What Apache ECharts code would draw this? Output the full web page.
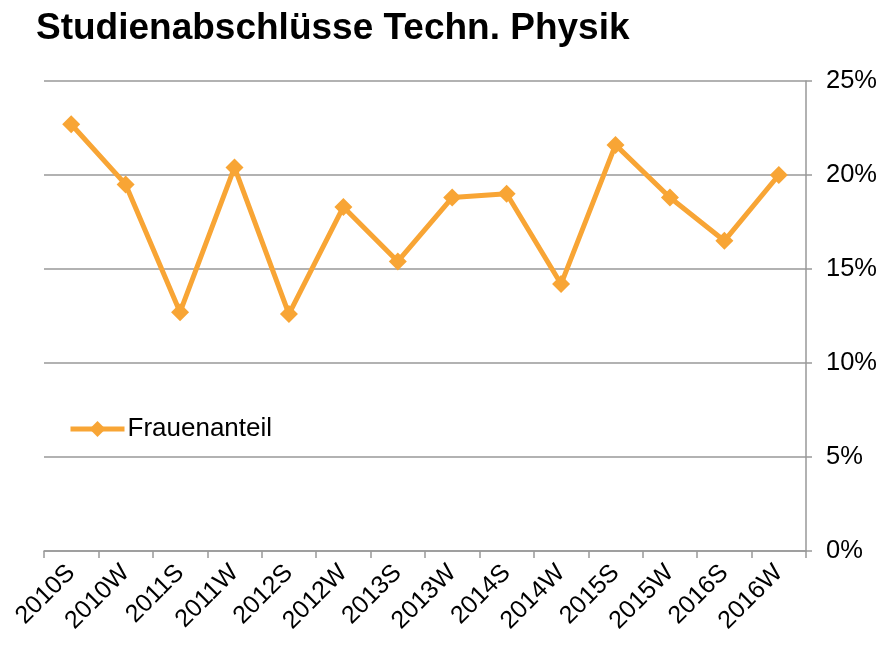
<!DOCTYPE html>
<html>
<head>
<meta charset="utf-8">
<script src="https://cdn.jsdelivr.net/npm/echarts@6/dist/echarts.min.js"></script>
<style>html,body{margin:0;padding:0;background:#fff}#c{width:886px;height:646px}</style>
</head>
<body>
<div id="c"></div>
<script>
const categories = ['2010S','2010W','2011S','2011W','2012S','2012W','2013S','2013W','2014S','2014W','2015S','2015W','2016S','2016W'];
const frauenanteil = [22.7, 19.5, 12.7, 20.4, 12.6, 18.3, 15.4, 18.8, 19.0, 14.2, 21.6, 18.8, 16.5, 20.0];
const seriesName = 'Frauenanteil';
const title = 'Studienabschlüsse Techn. Physik';

const chart = echarts.init(document.getElementById('c'));
const font = 'Liberation Sans, Arial, sans-serif';
chart.setOption({
  animation: false,
  title: {text: title, left: 31, top: 5, textStyle: {fontFamily: font, fontSize: 37, fontWeight: 'bold', color: '#000'}},
  legend: {left: 63, top: 411, itemWidth: 54, itemHeight: 20, itemGap: 4,
    lineStyle: {width: 5},
    textStyle: {fontFamily: font, fontSize: 26, color: '#000', padding: [0, 0, 0, -2]}, data: [seriesName]},
  grid: {left: 44, right: 80, top: 81, bottom: 95, containLabel: false},
  xAxis: {type: 'category', data: categories, boundaryGap: true,
    axisLine: {lineStyle: {color: '#999', width: 1.5}},
    axisTick: {show: true, length: 7, lineStyle: {color: '#999', width: 1.5}},
    axisLabel: {rotate: 45, fontFamily: font, fontSize: 25, color: '#000', margin: 18, interval: 0}},
  yAxis: {type: 'value', position: 'right', min: 0, max: 25, interval: 5,
    axisLine: {show: true, lineStyle: {color: '#999', width: 1.5}},
    axisTick: {show: true, length: 6, lineStyle: {color: '#999', width: 1.5}},
    splitLine: {lineStyle: {color: '#999', width: 1.5}},
    axisLabel: {formatter: '{value}%', fontFamily: font, fontSize: 25.5, color: '#000', margin: 20}},
  series: [{name: seriesName, type: 'line', data: frauenanteil,
    symbol: 'diamond', symbolSize: 18,
    lineStyle: {color: '#f8a535', width: 5},
    itemStyle: {color: '#f8a535'}}]
});
</script>
</body>
</html>
